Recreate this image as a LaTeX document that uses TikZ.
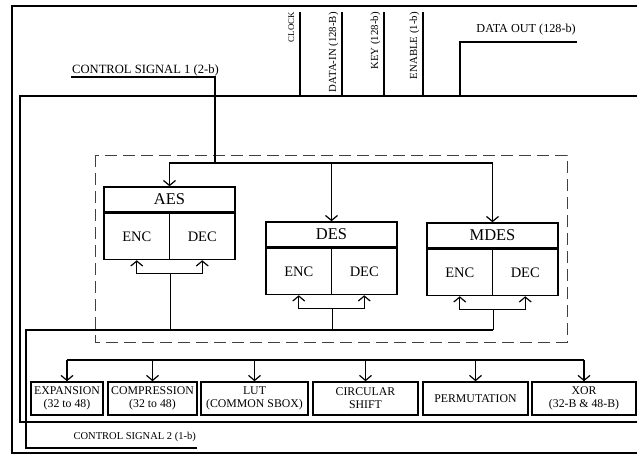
\documentclass[tikz,border=0pt]{standalone}
\usepackage{fontspec}
\setmainfont{Liberation Serif}
\usetikzlibrary{arrows.meta}

\tikzset{
  wire/.style={line width=1.2pt},
  feed/.style={wire, -{Straight Barb[length=5pt,width=12pt]}},
  enclosure/.style={line width=1pt, black!75, dash pattern=on 12pt off 6pt},
  siglbl/.style={inner sep=1pt, font=\fontsize{11}{13}\selectfont},
  pinlbl/.style={inner sep=0pt, rotate=90, font=\fontsize{10.8}{12}\selectfont},
  algotitle/.style={draw, line width=1.5pt, minimum width=131pt, minimum height=25pt,
    inner sep=0pt, font=\fontsize{16.5}{18}\selectfont},
  algohalf/.style={draw, line width=1.5pt, minimum width=65.5pt, minimum height=46pt,
    inner sep=0pt, font=\fontsize{14.5}{16}\selectfont},
  unitbox/.style={draw, line width=1.6pt, minimum height=33pt, inner sep=0pt,
    align=center, font=\fontsize{11.8}{13}\selectfont},
}

\begin{document}
\begin{tikzpicture}[x=1pt,y=-1pt]
\useasboundingbox (0,0) rectangle (637,456);

% =========================
% OUTER FRAME + MAIN BLOCK
% =========================
\draw[wire] (640,6) -- (12,6) -- (12,453) -- (640,453);
\draw[wire] (640,96) -- (20,96) -- (20,422) -- (640,422);
\coordinate (mainNW) at (20,96);

% =========================
% INPUT PINS (top edge)
% =========================
\foreach \x/\pin/\txt in {300/clk/{\fontsize{8.8}{10}\selectfont CLOCK},
    342/din/{DATA-IN (128-B)}, 384/key/{KEY (128-b)}, 423/en/{ENABLE (1-b)}} {
    \coordinate (\pin) at (\x,12);
    \node[pinlbl, anchor=base east] (\pin lbl) at ([xshift=-6pt]\pin) {\txt};
    \draw[wire] (\pin) -- (\pin |- mainNW);
}

% data out
\coordinate (dout) at (577,42);
\coordinate (doutpin) at (460,96);
\node[siglbl, font=\fontsize{12.2}{14}\selectfont, anchor=base east] (doutlbl)
    at ([yshift=10pt]dout) {DATA OUT (128-b)};
\draw[wire] (dout) -| (doutpin);

% =========================
% CIPHER BLOCK (dashed)
% =========================
\draw[enclosure] (95,155) rectangle (567,342);

\foreach \a/\t/\x/\y in {aes/AES/169.5/199.5, des/DES/331.5/234.5, mdes/MDES/492.5/235.5} {
    \node[algotitle] (\a) at (\x,\y) {\t};
    \node[algohalf, anchor=north west] (\a enc) at (\a.south west) {ENC};
    \node[algohalf, anchor=north east] (\a dec) at (\a.south east) {DEC};
}

% control signal 1 -> algorithm select
\coordinate (cs1) at (71,77);
\coordinate (topbus) at (215,163);
\node[siglbl, font=\fontsize{12.6}{14}\selectfont, anchor=base west] (cs1lbl)
    at ([yshift=4pt]cs1) {CONTROL SIGNAL 1 (2-b)};
\draw[wire] (cs1) -| (topbus);
\foreach \a in {aes,des,mdes}
    \draw[feed] (topbus) -| (\a.north);

% control signal 2 -> enc/dec select
\coordinate (cs2) at (197,448);
\coordinate (ctlbus) at (26,330);
\node[siglbl, font=\fontsize{10.5}{12}\selectfont, anchor=base east] (cs2lbl)
    at ([yshift=9pt]cs2) {CONTROL SIGNAL 2 (1-b)};
\draw[wire] (cs2) -| (ctlbus) -- (ctlbus -| mdesenc.south east);

\foreach \a in {aes,des,mdes} {
    \coordinate (\a fork) at ([yshift=-13pt]\a enc.south east);
    \draw[feed] (\a fork) -| (\a enc.south);
    \draw[feed] (\a fork) -| (\a dec.south);
    \draw[wire] (\a fork) -- (\a fork |- ctlbus);
}

% =========================
% COMMON UNITS (bottom row)
% =========================
\foreach \u/\x/\w/\txt in {exp/67/72/{EXPANSION\\(32 to 48)},
    comp/152.5/89/{COMPRESSION\\(32 to 48)}, lut/254.5/107/{LUT\\(COMMON SBOX)},
    shift/365.5/105/{CIRCULAR\\SHIFT}, perm/475.5/105/{PERMUTATION},
    xor/584/104/{XOR\\(32-B \& 48-B)}}
    \node[unitbox, minimum width=\w pt] (\u) at (\x,398.5) {\txt};

\coordinate (unitbus) at (67,360);
\draw[wire] (unitbus) -- (unitbus -| xor.north);
\foreach \u in {exp,comp,lut,shift,perm,xor}
    \draw[feed] (unitbus -| \u.north) -- (\u.north);

\end{tikzpicture}
\end{document}
